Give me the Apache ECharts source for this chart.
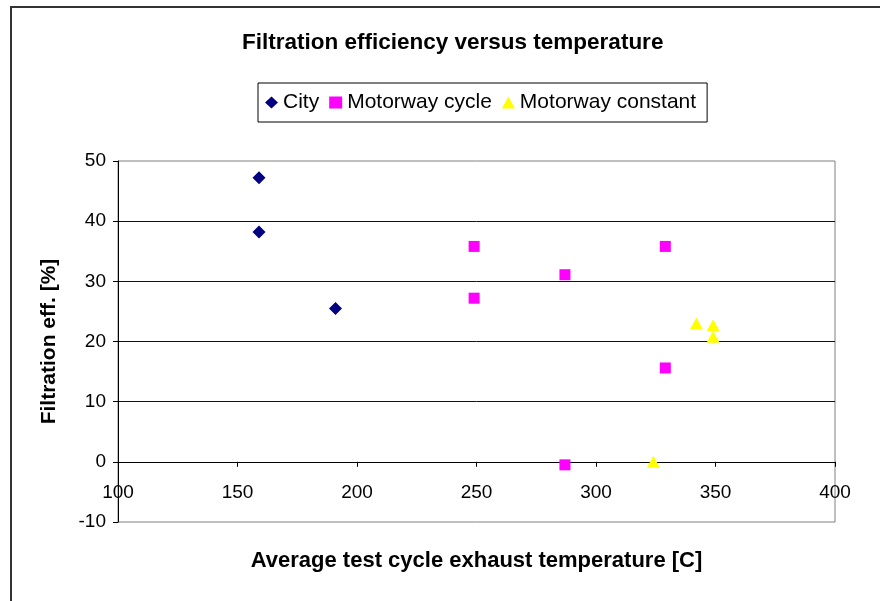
<!DOCTYPE html>
<html>
<head>
<meta charset="utf-8">
<script src="https://cdn.jsdelivr.net/npm/echarts@6/dist/echarts.min.js"></script>
<style>
  html, body { margin: 0; padding: 0; background: #fff; }
  #chart { width: 880px; height: 601px; }
</style>
</head>
<body>
<div id="chart"></div>
<script>
// series names
const seriesNames = ['City', 'Motorway cycle', 'Motorway constant']

// temperature [C] and filtration eff. [%]
const cityTemp = [159, 159, 191]
const cityEff = [47.2, 38.2, 25.5]
const cycleTemp = [249, 249, 287, 329, 329, 287]
const cycleEff = [35.8, 27.2, 31.1, 35.8, 15.6, -0.5]
const constTemp = [342, 349, 349, 324]
const constEff = [23.0, 22.7, 20.8, 0]

// axis ranges
const xMin = 100, xMax = 400, xStep = 50
const yMin = -10, yMax = 50, yStep = 10

function pairs(xs, ys) {
  return xs.map((x, i) => [x, ys[i]])
}

const font = 'Liberation Sans, Arial, sans-serif'

// plot box
const gridTop = 161, gridHeight = 361
// the x axis sits on y = 0, so shift it up from the bottom of the box
const xAxisShift = -gridHeight * (0 - yMin) / (yMax - yMin)

const chart = echarts.init(document.getElementById('chart'))

const option = {
  animation: false,
  backgroundColor: '#fff',
  textStyle: { fontFamily: font },
  title: {
    text: 'Filtration efficiency versus temperature',
    left: 237,
    top: 26,
    textStyle: { fontSize: 22.5, fontWeight: 'bold', color: '#000', fontFamily: font }
  },
  legend: {
    data: [
      { name: seriesNames[0], icon: 'diamond' },
      { name: seriesNames[1], icon: 'rect' },
      { name: seriesNames[2], icon: 'triangle' }
    ],
    left: 258,
    top: 83,
    padding: [9, 11, 9, 7],
    itemGap: 10,
    itemWidth: 13,
    itemHeight: 12,
    borderColor: '#000',
    borderWidth: 1,
    backgroundColor: '#fff',
    textStyle: { fontSize: 21, color: '#000', fontFamily: font }
  },
  graphic: [
    {
      // outer frame, only top and left visible
      type: 'rect',
      shape: { x: 11, y: 7, width: 900, height: 700 },
      style: { fill: 'none', stroke: '#333', lineWidth: 2 },
      silent: true
    }
  ],
  grid: {
    left: 118,
    top: gridTop,
    width: 717,
    height: gridHeight,
    outerBoundsMode: 'none',
    containLabel: false,
    show: true,
    borderColor: '#808080',
    borderWidth: 1,
    backgroundColor: 'transparent'
  },
  xAxis: {
    type: 'value',
    min: xMin,
    max: xMax,
    interval: xStep,
    offset: xAxisShift,
    name: 'Average test cycle exhaust temperature [C]',
    nameLocation: 'middle',
    nameGap: 88,
    nameTextStyle: { fontSize: 22, fontWeight: 'bold', color: '#000', fontFamily: font },
    axisLine: { show: true, onZero: false, lineStyle: { color: '#000', width: 1 } },
    axisTick: { show: true, length: 5, lineStyle: { color: '#000' } },
    axisLabel: { fontSize: 19, color: '#000', margin: 21, fontFamily: font, hideOverlap: false },
    splitLine: { show: false }
  },
  yAxis: {
    type: 'value',
    min: yMin,
    max: yMax,
    interval: yStep,
    name: 'Filtration eff. [%]',
    nameLocation: 'middle',
    nameGap: 58,
    nameTextStyle: { fontSize: 21, fontWeight: 'bold', color: '#000', fontFamily: font },
    axisLine: { show: true, lineStyle: { color: '#000', width: 1 } },
    axisTick: { show: true, length: 5, lineStyle: { color: '#000' } },
    axisLabel: { fontSize: 19, color: '#000', margin: 12, fontFamily: font },
    splitLine: {
      show: true,
      showMinLine: false,
      showMaxLine: false,
      lineStyle: { color: '#111', width: 1 }
    }
  },
  series: [
    {
      name: seriesNames[0],
      type: 'scatter',
      symbol: 'diamond',
      symbolSize: [13, 13],
      itemStyle: { color: '#000080', opacity: 1 },
      data: pairs(cityTemp, cityEff)
    },
    {
      name: seriesNames[1],
      type: 'scatter',
      symbol: 'rect',
      symbolSize: [11, 11],
      itemStyle: { color: '#ff00ff', opacity: 1 },
      data: pairs(cycleTemp, cycleEff)
    },
    {
      name: seriesNames[2],
      type: 'scatter',
      symbol: 'triangle',
      symbolSize: [13, 12],
      itemStyle: { color: '#ffff00', opacity: 1 },
      data: pairs(constTemp, constEff)
    }
  ]
}

chart.setOption(option)
</script>
</body>
</html>
